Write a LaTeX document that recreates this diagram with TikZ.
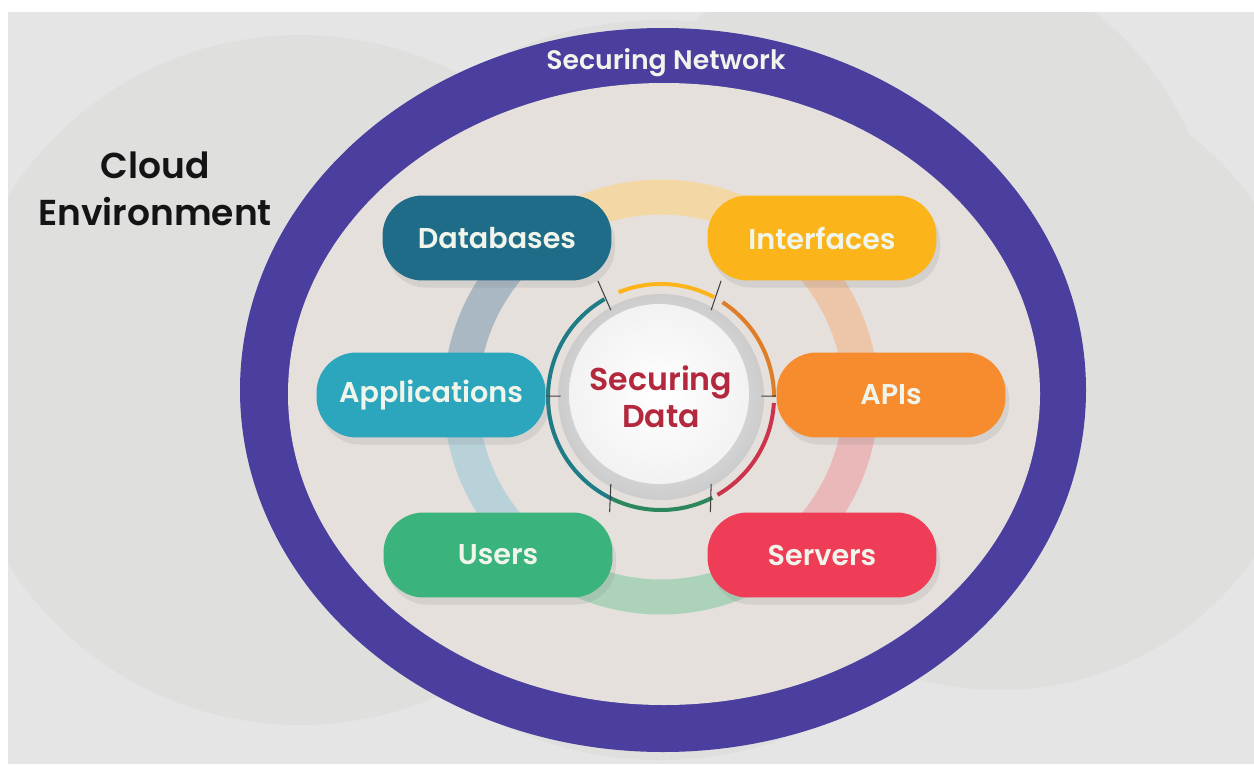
\documentclass[tikz,border=0pt]{standalone}
\usepackage{fontspec}
\setmainfont{Poppins}[BoldFont={Poppins SemiBold}]
\usetikzlibrary{calc,shadows}

\definecolor{bggrey}{HTML}{E5E5E5}
\definecolor{cloudgrey}{HTML}{DFE0DE}
\definecolor{netpurple}{HTML}{4A3E9E}
\definecolor{innerbeige}{HTML}{E5E0DC}
\definecolor{dbteal}{HTML}{1E6C87}
\definecolor{ifyellow}{HTML}{FBB51A}
\definecolor{appcyan}{HTML}{2CA6BD}
\definecolor{apiorange}{HTML}{F78C2E}
\definecolor{usrgreen}{HTML}{3AB47C}
\definecolor{srvred}{HTML}{EF3D57}
\definecolor{datared}{HTML}{B3283C}
\definecolor{labelwhite}{HTML}{F0F5EC}
\definecolor{rimteal}{HTML}{1F7C86}

\pgfdeclarelayer{front}
\pgfsetlayers{main,front}

\tikzset{
  pill/.style={rounded corners=0.8cm, minimum width=4.58cm, minimum height=1.7cm,
    text=labelwhite, font=\bfseries\fontsize{16.3}{18}\selectfont,
    drop shadow={shadow xshift=2pt, shadow yshift=-4pt, opacity=0.16}},
  link/.style={draw=black!75, line width=0.6pt},
  halo/.style={line width=0.7cm},
  rim/.style={line width=0.08cm}
}

\begin{document}
\begin{tikzpicture}[x=0.02cm,y=0.02cm]
  \useasboundingbox (0,0) rectangle (1254,-764);
  \fill[white] (0,0) rectangle (1254,-764);
  \fill[bggrey] (8,-12) rectangle (1254,-764);

  % cloud behind the network
  \begin{scope}
    \clip (8,-12) rectangle (1254,-764);
    \fill[cloudgrey] (300,-380) circle (345);
    \fill[cloudgrey] (900,-260) circle (315);
    \fill[cloudgrey] (1000,-380) circle (310);
    \fill[cloudgrey] (660,-390) circle (370);
  \end{scope}

  % network ring
  \fill[netpurple] (663,-390) ellipse [x radius=423, y radius=362];
  \fill[innerbeige] (664,-394) ellipse [x radius=376, y radius=311];
  \node[font=\bfseries\fontsize{15.2}{17}\selectfont, text=labelwhite] (net) at (666,-63) {Securing Network};

  \node[align=center, font=\bfseries\fontsize{20.5}{27}\selectfont, text=black!92] (cloud) at (155,-189) {Cloud\\Environment};

  % pale ring behind the boxes
  \coordinate (hub) at (661,-397);
  \draw[halo, draw={rgb,255:red,243;green,215;blue,165}] ($(hub)+(55:200)$) arc (55:125:200);
  \draw[halo, draw={rgb,255:red,237;green,197;blue,168}] ($(hub)+(0:200)$) arc (0:55:200);
  \draw[halo, draw={rgb,255:red,235;green,184;blue,185}] ($(hub)+(-55:200)$) arc (-55:0:200);
  \draw[halo, draw={rgb,255:red,172;green,211;blue,186}] ($(hub)+(235:200)$) arc (235:305:200);
  \draw[halo, draw={rgb,255:red,185;green,210;blue,217}] ($(hub)+(180:200)$) arc (180:235:200);
  \draw[halo, draw={rgb,255:red,169;green,184;blue,195}] ($(hub)+(125:200)$) arc (125:180:200);

  % centre button
  \shade[inner color=black!4, outer color=black!20] (hub) circle (103);
  \shade[inner color=white, outer color=black!5] ($(hub)+(-2,3)$) circle (90);
  \draw[rim, draw=rimteal] ($(hub)+(120:113)$) arc (120:245:113);
  \draw[rim, draw=usrgreen!75!black] ($(hub)+(245:113)$) arc (245:297:113);
  \draw[rim, draw=srvred!85!black] ($(hub)+(300:113)$) arc (300:357:113);
  \draw[rim, draw=apiorange!90!black] ($(hub)+(0:113)$) arc (0:57:113);
  \draw[rim, draw=ifyellow] ($(hub)+(62:113)$) arc (62:112:113);
  \node[circle, minimum size=4cm, align=center, text=datared,
    font=\bfseries\fontsize{18}{21}\selectfont] (core) at (hub) {Securing\\Data};

  \begin{pgfonlayer}{front}
    \node[pill, fill=dbteal] (db) at (497,-238) {Databases};
    \node[pill, fill=ifyellow] (iface) at (822,-238) {Interfaces};
    \node[pill, fill=appcyan] (app) at (431,-395) {Applications};
    \node[pill, fill=apiorange] (api) at (891,-395) {APIs};
    \node[pill, fill=usrgreen] (usr) at (498,-555) {Users};
    \node[pill, fill=srvred] (srv) at (822,-555) {Servers};
  \end{pgfonlayer}

  % spokes
  \draw[link] (core.120) -- (db.-23);
  \draw[link] (core.60) -- (iface.203);
  \draw[link] (core) -- (app);
  \draw[link] (core) -- (api);
  \draw[link] (core.240) -- (usr.21);
  \draw[link] (core.300) -- (srv.159);
\end{tikzpicture}
\end{document}
